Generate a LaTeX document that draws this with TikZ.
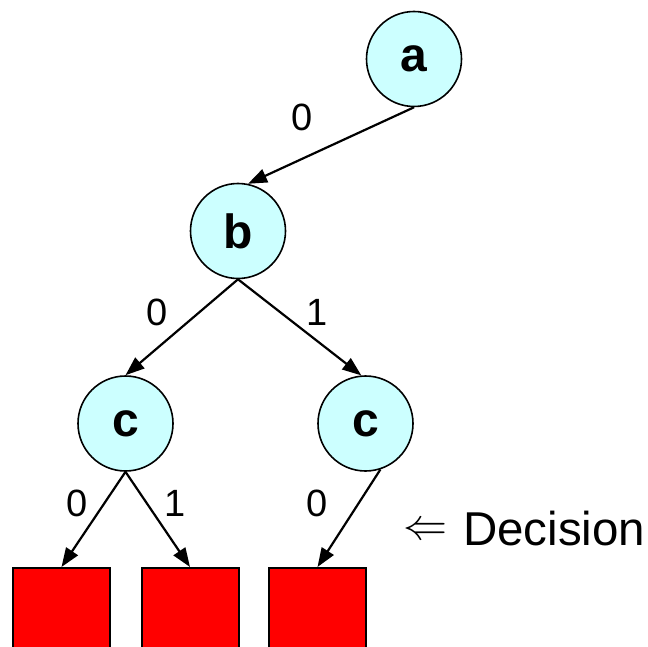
\documentclass[tikz,border=0pt]{standalone}
\usepackage{fontspec}
\setmainfont{Liberation Sans}
\usetikzlibrary{arrows.meta}
\definecolor{nodecyan}{RGB}{204,255,255}
\tikzset{
  treenode/.style={circle,draw=black,line width=1.6pt,fill=nodecyan,minimum size=95pt,inner sep=0pt,font=\fontsize{48}{48}\selectfont\bfseries},
  leafbox/.style={rectangle,draw=black,line width=2pt,fill=red,minimum width=97pt,minimum height=97pt,inner sep=0pt,anchor=north},
  edge/.style={line width=2.2pt,-{Triangle[length=19pt,width=14pt]}},
  bitlabel/.style={font=\fontsize{38}{38}\selectfont,inner sep=0pt}
}
\begin{document}
\begin{tikzpicture}[x=1pt,y=-1pt]
\useasboundingbox (0,0) rectangle (648,647);
\clip (0,0) rectangle (648,647);
\node[treenode] (a) at (414,59) {a};
\node[treenode] (b) at (238,231) {b};
\node[treenode] (c1) at (125.5,423.5) {c};
\node[treenode] (c2) at (365.5,423.5) {c};
\node[leafbox] (l1) at (61.5,567) {};
\node[leafbox] (l2) at (190,567) {};
\node[leafbox] (l3) at (317.5,567) {};
\draw[edge] (a.south) -- (b.78);
\draw[edge] (b.south) -- (c1.north);
\draw[edge] (b.south) -- (c2.95);
\draw[edge] (c1.south) -- (l1.north);
\draw[edge] (c1.south) -- (l2.north);
\draw[edge] (c2.-72) -- (l3.north);
\node[bitlabel] (t0) at (302,117) {0};
\node[bitlabel] (t1) at (157,312) {0};
\node[bitlabel] (t2) at (317,312) {1};
\node[bitlabel] (t3) at (77,503) {0};
\node[bitlabel] (t4) at (175,503) {1};
\node[bitlabel] (t5) at (317,503) {0};
\node[inner sep=0pt] (arr) at (425,531) {\scalebox{4.4}{$\Leftarrow$}};
\node[anchor=base west,inner sep=0pt,font=\fontsize{47.5}{47.5}\selectfont] (dec) at (463,545) {Decision};
\end{tikzpicture}
\end{document}
